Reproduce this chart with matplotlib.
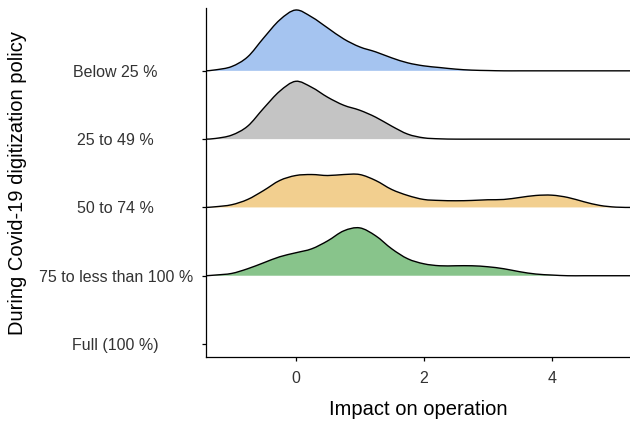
import matplotlib
matplotlib.use("Agg")
import matplotlib.pyplot as plt
from matplotlib.path import Path
from matplotlib.patches import PathPatch

plt.rcParams["font.family"] = ["Liberation Sans", "DejaVu Sans"]

# categories, bottom to top
categories = ["Full (100 %)", "75 to less than 100 %", "50 to 74 %", "25 to 49 %", "Below 25 %"]

# x grid of the density readings
x_grid = [-1.25, -1.0, -0.75, -0.5, -0.25, 0.0, 0.25, 0.5, 0.75, 1.0, 1.25, 1.5,
          1.75, 2.0, 2.25, 2.5, 2.75, 3.0, 3.25, 3.5, 3.75, 4.0, 4.25, 4.5, 4.75,
          5.0, 5.25]

# density heights (relative units)
below25 = [1.0, 4.3, 14, 33, 51, 61, 54, 43, 32, 24, 19, 13, 8, 5, 3.3, 1.7, 0.7,
           0.3, 0, 0, 0, 0, 0, 0, 0, 0, 0]
p25_49 = [0.7, 4, 13, 31, 48, 58, 52, 42, 34, 29, 22, 13, 5, 1.3, 0.3, 0, 0, 0,
          0, 0, 0, 0, 0, 0, 0, 0, 0]
p50_74 = [0.7, 2.7, 8, 17, 27, 32, 33, 32, 33, 33, 27, 18, 12, 8, 7, 6.7, 7, 7.7,
          8, 10, 12, 12.3, 10, 5.7, 2, 0.3, 0]
p75_100 = [0.7, 2.3, 7, 13, 19, 23, 27, 35, 45, 48, 40, 27, 17, 12, 10, 10, 10, 9,
           7, 4, 1.7, 0.7, 0, 0, 0, 0, 0]
full100 = [0] * len(x_grid)

series = [full100, p75_100, p50_74, p25_49, below25]
colors = [None, "#88c48b", "#f2cf8f", "#c4c4c4", "#a5c4f0"]

scale = 1 / 68.5


def smooth_path(xs, ys):
    # Catmull-Rom through the read points, drawn as cubic Bezier segments
    verts = [(xs[0], ys[0])]
    codes = [Path.MOVETO]
    n = len(xs)
    for k in range(n - 1):
        x0, y0 = xs[max(k - 1, 0)], ys[max(k - 1, 0)]
        x1, y1 = xs[k], ys[k]
        x2, y2 = xs[k + 1], ys[k + 1]
        x3, y3 = xs[min(k + 2, n - 1)], ys[min(k + 2, n - 1)]
        verts += [(x1 + (x2 - x0) / 6, y1 + (y2 - y0) / 6),
                  (x2 - (x3 - x1) / 6, y2 - (y3 - y1) / 6),
                  (x2, y2)]
        codes += [Path.CURVE4] * 3
    return verts, codes


fig = plt.figure(figsize=(6.3, 4.21), dpi=100)
ax = fig.add_axes([0.327, 0.152, 0.673, 0.829])

xmin, xmax = -1.40, 5.22

# draw from top row down so lower ridges overlap upper ones
for i in range(len(categories) - 1, -1, -1):
    if colors[i] is None:
        continue
    xs = [xmin] + x_grid + [xmax]
    ys = [i] + [i + h * scale for h in series[i]] + [i]
    verts, codes = smooth_path(xs, ys)
    fill_verts = verts + [(xmax, i), (xmin, i), (xmin, i)]
    fill_codes = codes + [Path.LINETO, Path.LINETO, Path.CLOSEPOLY]
    z = 2 + 2 * (4 - i)
    ax.add_patch(PathPatch(Path(fill_verts, fill_codes), facecolor=colors[i],
                           edgecolor="none", zorder=z))
    ax.add_patch(PathPatch(Path(verts, codes), facecolor="none",
                           edgecolor="black", lw=1.0, zorder=z + 1))

ax.set_xlim(xmin, xmax)
ax.set_ylim(-0.19, 4.92)
ax.set_yticks(range(len(categories)))
ax.set_yticklabels(categories)
ax.set_xticks([0, 2, 4])

for s in ["top", "right"]:
    ax.spines[s].set_visible(False)
for s in ["left", "bottom"]:
    ax.spines[s].set_linewidth(0.9)

ax.tick_params(axis="both", length=3, width=0.9, labelsize=11.5, labelcolor="#333333")
ax.tick_params(axis="x", pad=7)
ax.tick_params(axis="y", pad=62)
for lab in ax.get_yticklabels():
    lab.set_horizontalalignment("center")

ax.set_xlabel("Impact on operation", fontsize=14.5, labelpad=10)
ax.set_ylabel("During Covid-19 digitization policy", fontsize=14.5, labelpad=8)

fig.savefig("out.png", dpi=100)
